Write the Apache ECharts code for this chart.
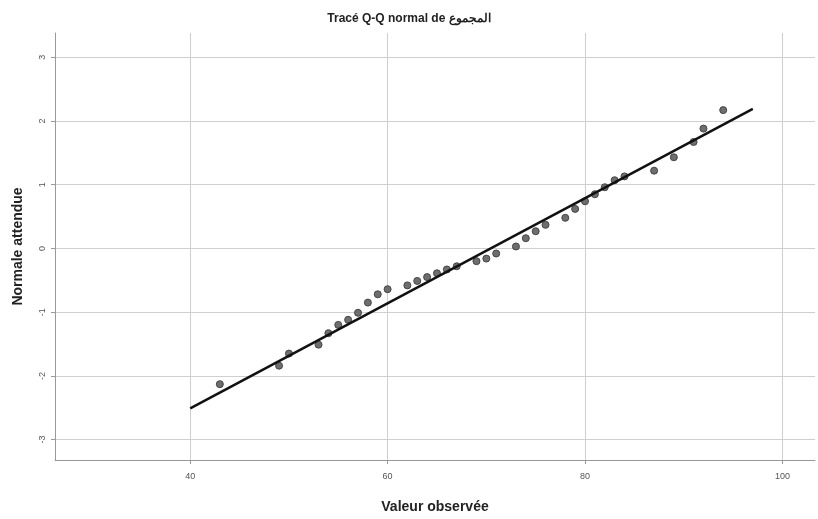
<!DOCTYPE html>
<html>
<head>
<meta charset="utf-8">
<script src="https://cdn.jsdelivr.net/npm/echarts@6/dist/echarts.min.js"></script>
<style>
  html, body { margin: 0; padding: 0; background: #fff; }
  #container { width: 818px; height: 519px; }
</style>
</head>
<body>
<div id="container"></div>
<script>
var dom = document.getElementById("container");
var myChart = echarts.init(dom);

// observed values (x) and expected normal values (y)
var observed = [43, 49, 50, 53, 54, 55, 56, 57, 58, 59, 60, 62, 63, 64, 65, 66, 67, 69, 70, 71,
  73, 74, 75, 76, 78, 79, 80, 81, 82, 83, 84, 87, 89, 91, 92, 94];
var expected = [-2.13, -1.84, -1.65, -1.51, -1.33, -1.2, -1.12, -1.01, -0.85, -0.72, -0.64, -0.58, -0.51, -0.45, -0.39, -0.33, -0.28, -0.2, -0.16, -0.08,
  0.03, 0.16, 0.27, 0.37, 0.48, 0.62, 0.74, 0.85, 0.96, 1.07, 1.13, 1.22, 1.43, 1.67, 1.88, 2.17];
// reference line end points
var lineX = [40, 97];
var lineY = [-2.51, 2.19];
var xTicks = [40, 60, 80, 100];
var yTicks = [-3, -2, -1, 0, 1, 2, 3];

var gridColor = '#cfcfcf';

var option = {
  animation: false,
  title: {
    text: 'Tracé Q-Q normal de المجموع',
    left: 'center',
    top: 8,
    textStyle: { fontFamily: 'Liberation Sans, Arial', fontSize: 12, fontWeight: 'bold', color: '#222' }
  },
  grid: { left: 55, right: 3, top: 33, bottom: 54 },
  xAxis: {
    type: 'value',
    min: 26.3,
    max: 103.3,
    name: 'Valeur observée',
    nameLocation: 'middle',
    nameGap: 40,
    nameTextStyle: { fontFamily: 'Liberation Sans, Arial', fontSize: 14, fontWeight: 'bold', color: '#222' },
    axisLine: { show: true, onZero: false, lineStyle: { color: '#999', width: 1 } },
    axisTick: { show: true, customValues: xTicks, length: 4, lineStyle: { color: '#999' } },
    axisLabel: { customValues: xTicks, fontSize: 9, color: '#555', margin: 12, fontFamily: 'Liberation Sans, Arial' },
    splitLine: { show: true, lineStyle: { color: gridColor, width: 1 } }
  },
  yAxis: {
    type: 'value',
    min: -3.32,
    max: 3.38,
    name: 'Normale attendue',
    nameLocation: 'middle',
    nameGap: 30,
    nameTextStyle: { fontFamily: 'Liberation Sans, Arial', fontSize: 14, fontWeight: 'bold', color: '#222' },
    axisLine: { show: true, onZero: false, lineStyle: { color: '#999', width: 1 } },
    axisTick: { show: true, customValues: yTicks, length: 4, lineStyle: { color: '#999' } },
    axisLabel: { customValues: yTicks, fontSize: 9, color: '#555', margin: 8, rotate: 90, fontFamily: 'Liberation Sans, Arial' },
    splitLine: { show: true, lineStyle: { color: gridColor, width: 1 } }
  },
  series: [
    {
      type: 'line',
      data: lineX.map((x, i) => [x, lineY[i]]),
      symbol: 'none',
      lineStyle: { color: '#111', width: 2.5 },
      z: 3
    },
    {
      type: 'scatter',
      data: observed.map((x, i) => [x, expected[i]]),
      symbolSize: 7,
      itemStyle: { color: '#6e6e6e', borderColor: '#444', borderWidth: 1, opacity: 1 },
      z: 2
    }
  ]
};

myChart.setOption(option);
</script>
</body>
</html>
